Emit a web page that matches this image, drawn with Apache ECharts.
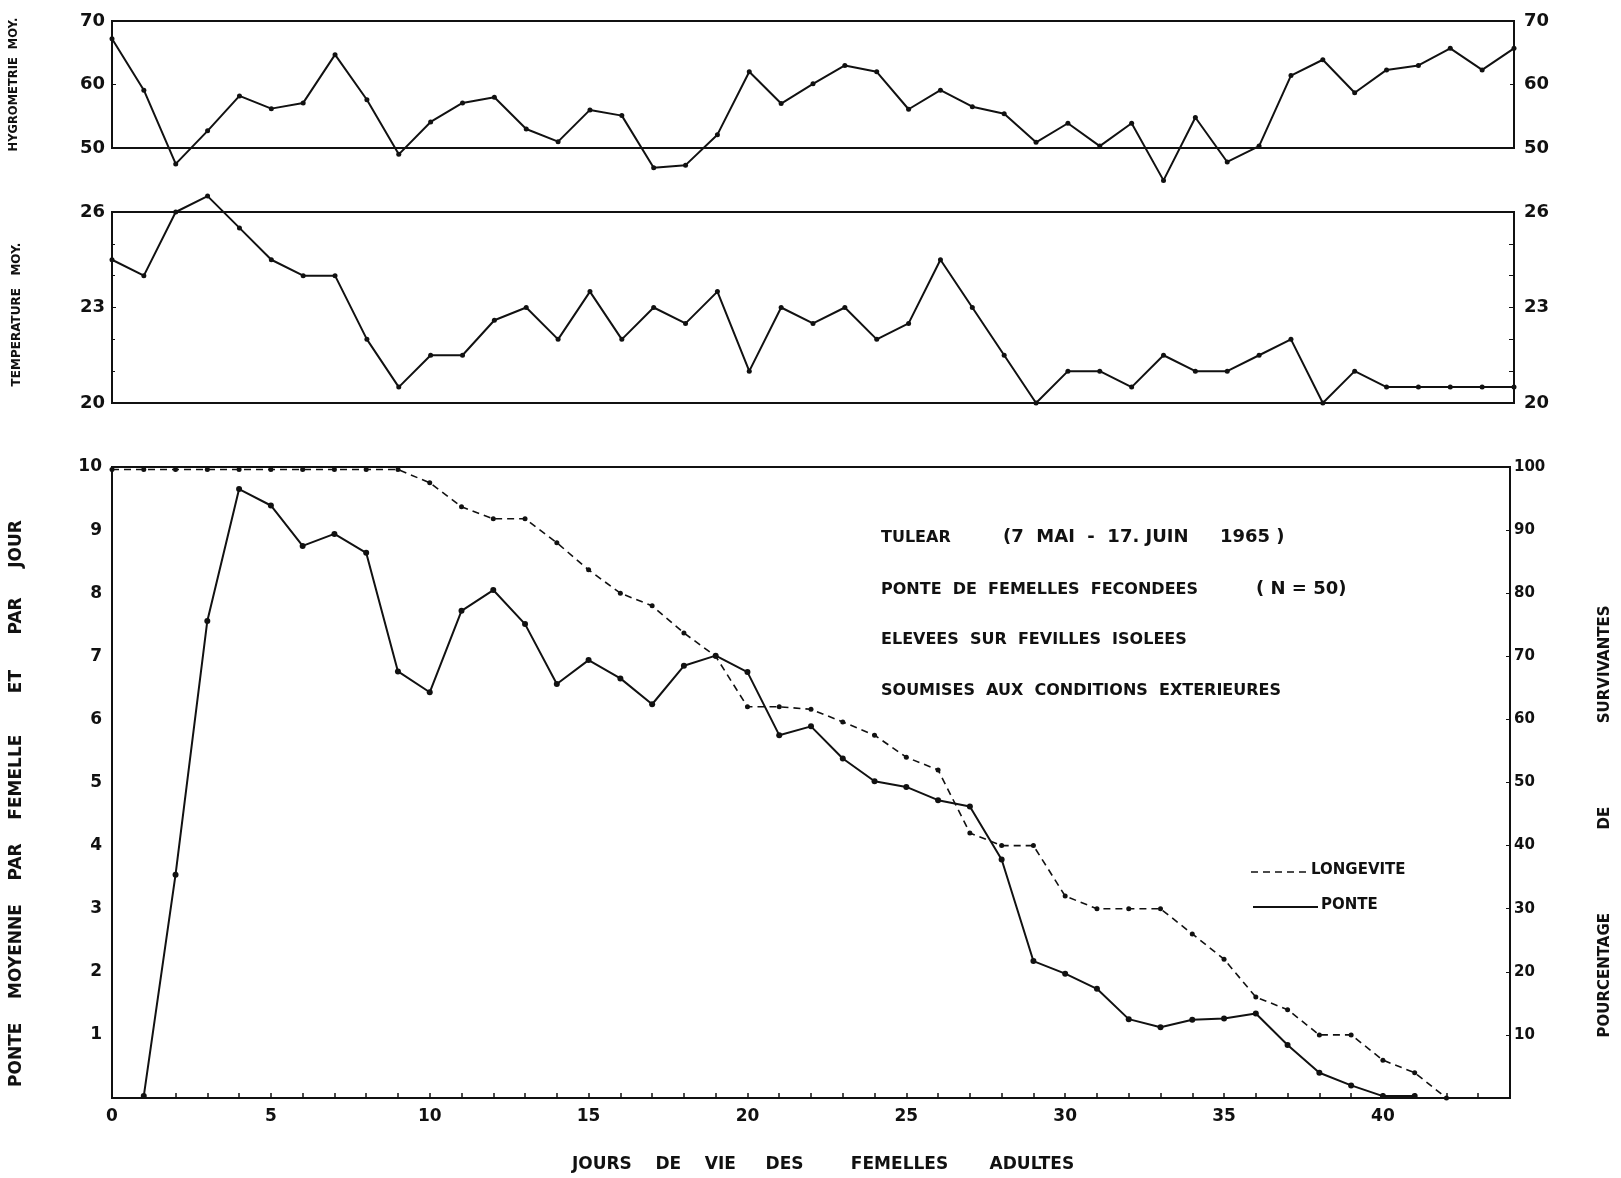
<!DOCTYPE html>
<html>
<head>
<meta charset="utf-8">
<script src="https://cdn.jsdelivr.net/npm/echarts@6/dist/echarts.min.js"></script>
<style>
html,body{margin:0;padding:0;background:#ffffff;}
#c{width:1621px;height:1178px;}
</style>
</head>
<body>
<div id="c"></div>
<script>
// ---- DATA ----
const days = [0,1,2,3,4,5,6,7,8,9,10,11,12,13,14,15,16,17,18,19,20,21,22,23,24,25,26,27,28,29,30,31,32,33,34,35,36,37,38,39,40,41,42,43,44];
const hygrometrie = [67.2,59.1,47.5,52.7,58.2,56.2,57.1,64.7,57.6,49.0,54.1,57.1,58.0,53.0,51.0,56.0,55.1,46.9,47.3,52.1,62.0,57.0,60.1,63.0,62.0,56.1,59.1,56.5,55.4,50.9,53.9,50.3,53.9,44.9,54.8,47.8,50.3,61.4,63.9,58.7,62.3,63.0,65.7,62.3,65.7];
const temperature = [24.5,24.0,26.0,26.5,25.5,24.5,24.0,24.0,22.0,20.5,21.5,21.5,22.6,23.0,22.0,23.5,22.0,23.0,22.5,23.5,21.0,23.0,22.5,23.0,22.0,22.5,24.5,23.0,21.5,20.0,21.0,21.0,20.5,21.5,21.0,21.0,21.5,22.0,20.0,21.0,20.5,20.5,20.5,20.5,20.5];
const ponte = [null,0.03,3.54,7.56,9.65,9.39,8.75,8.94,8.64,6.76,6.43,7.72,8.05,7.51,6.56,6.94,6.65,6.24,6.85,7.01,6.75,5.75,5.89,5.38,5.02,4.93,4.72,4.62,3.78,2.17,1.97,1.73,1.25,1.12,1.24,1.26,1.34,0.84,0.40,0.20,0.03,0.03];
const longevite = [99.6,99.6,99.6,99.6,99.6,99.6,99.6,99.6,99.6,99.6,97.5,93.7,91.8,91.8,88,83.7,80,78,73.7,70,62,62,61.6,59.6,57.5,54,52,42,40,40,32,30,30,30,26,22,16,14,10,10,6,4,0];
const annotationLines = [
  ['TULEAR', '(7  MAI  -  17. JUIN     1965 )'],
  ['PONTE  DE  FEMELLES  FECONDEES', '( N = 50)'],
  ['ELEVEES  SUR  FEVILLES  ISOLEES'],
  ['SOUMISES  AUX  CONDITIONS  EXTERIEURES']
];

// ---- CHART ----
const FONT = 'DejaVu Sans';
const INK = '#111111';
const pairs = vals => vals.map((v, i) => [days[i], v === null ? '-' : v]);

const chart = echarts.init(document.getElementById('c'), null, {renderer: 'canvas'});

const gridBase = {show: true, borderColor: INK, borderWidth: 2, backgroundColor: 'transparent'};
const lbl = (size, extra) => Object.assign({color: INK, fontFamily: FONT, fontWeight: 'bold', fontSize: size}, extra || {});

function hiddenX(gridIndex) {
  return {type: 'value', gridIndex, min: 0, max: 44, interval: 1,
    axisLine: {show: false}, axisTick: {show: false}, axisLabel: {show: false}, splitLine: {show: false}};
}

const option = {
  backgroundColor: '#ffffff',
  animation: false,
  grid: [
    Object.assign({left: 112, top: 21, width: 1402, height: 127}, gridBase),
    Object.assign({left: 112, top: 212, width: 1402, height: 191}, gridBase),
    Object.assign({left: 112, top: 467, width: 1408, height: 638}, gridBase)
  ],
  xAxis: [
    hiddenX(0),
    hiddenX(1),
    {type: 'value', gridIndex: 2, min: 0, max: 44, interval: 1,
      axisLine: {show: true, lineStyle: {color: INK, width: 2}},
      axisTick: {show: true, inside: true, length: 5, lineStyle: {color: INK, width: 1.5}},
      axisLabel: Object.assign(lbl(17), {margin: 10, formatter: v => (v % 5 === 0 ? String(v) : '')}),
      splitLine: {show: false},
      name: 'JOURS    DE    VIE     DES        FEMELLES       ADULTES',
      nameLocation: 'middle', nameGap: 58,
      nameTextStyle: lbl(17, {padding: [0, 0, 0, 24]})}
  ],
  yAxis: [
    {type: 'value', gridIndex: 0, position: 'left', min: 50, max: 70, interval: 10,
      axisLine: {show: true, lineStyle: {color: INK, width: 2}},
      axisTick: {show: true, inside: true, length: 4, lineStyle: {color: INK}},
      axisLabel: lbl(18, {margin: 7}), splitLine: {show: false},
      name: 'HYGROMETRIE  MOY.', nameLocation: 'middle', nameRotate: 90, nameGap: 92,
      nameTextStyle: lbl(11.5)},
    {type: 'value', gridIndex: 0, position: 'right', min: 50, max: 70, interval: 10,
      axisLine: {show: true, lineStyle: {color: INK, width: 2}},
      axisTick: {show: true, inside: true, length: 4, lineStyle: {color: INK}},
      axisLabel: lbl(18, {margin: 10}), splitLine: {show: false}},
    {type: 'value', gridIndex: 1, position: 'left', min: 20, max: 26, interval: 3,
      axisLine: {show: true, lineStyle: {color: INK, width: 2}},
      axisTick: {show: true, inside: true, length: 4, lineStyle: {color: INK}},
      minorTick: {show: true, splitNumber: 3, length: 3, lineStyle: {color: INK}},
      axisLabel: lbl(18, {margin: 7}), splitLine: {show: false},
      name: 'TEMPERATURE   MOY.', nameLocation: 'middle', nameRotate: 90, nameGap: 89,
      nameTextStyle: lbl(12, {padding: [0, 14, 0, 0]})},
    {type: 'value', gridIndex: 1, position: 'right', min: 20, max: 26, interval: 3,
      axisLine: {show: true, lineStyle: {color: INK, width: 2}},
      axisTick: {show: true, inside: true, length: 5, lineStyle: {color: INK}},
      minorTick: {show: true, splitNumber: 3, length: 5, lineStyle: {color: INK}},
      axisLabel: lbl(18, {margin: 10}), splitLine: {show: false}},
    {type: 'value', gridIndex: 2, position: 'left', min: 0, max: 10, interval: 1,
      axisLine: {show: true, lineStyle: {color: INK, width: 2}},
      axisTick: {show: false},
      axisLabel: lbl(17, {margin: 10, formatter: v => (v === 0 ? '' : String(v))}), splitLine: {show: false},
      name: 'PONTE    MOYENNE    PAR    FEMELLE       ET      PAR     JOUR', nameLocation: 'middle', nameRotate: 90, nameGap: 87,
      nameTextStyle: lbl(17, {padding: [0, 42, 0, 0]})},
    {type: 'value', gridIndex: 2, position: 'right', min: 0, max: 100, interval: 10,
      axisLine: {show: true, lineStyle: {color: INK, width: 2}},
      axisTick: {show: true, inside: true, length: 4, lineStyle: {color: INK}},
      axisLabel: lbl(15, {margin: 4, formatter: v => (v === 0 ? '' : String(v))}), splitLine: {show: false},
      name: 'POURCENTAGE                DE                SURVIVANTES', nameLocation: 'middle', nameRotate: 90, nameGap: 88,
      nameTextStyle: lbl(15, {padding: [0, 78, 0, 0]})}
  ],
  series: [
    {name: 'HYGROMETRIE', type: 'line', xAxisIndex: 0, yAxisIndex: 0, data: pairs(hygrometrie),
      clip: false, symbol: 'circle', symbolSize: 5, itemStyle: {color: INK},
      lineStyle: {color: INK, width: 2}},
    {name: 'TEMPERATURE', type: 'line', xAxisIndex: 1, yAxisIndex: 2, data: pairs(temperature),
      clip: false, symbol: 'circle', symbolSize: 5, itemStyle: {color: INK},
      lineStyle: {color: INK, width: 2}},
    {name: 'PONTE', type: 'line', xAxisIndex: 2, yAxisIndex: 4, data: pairs(ponte),
      clip: false, symbol: 'circle', symbolSize: 6, itemStyle: {color: INK},
      lineStyle: {color: INK, width: 2}},
    {name: 'LONGEVITE', type: 'line', xAxisIndex: 2, yAxisIndex: 5, data: pairs(longevite),
      clip: false, symbol: 'circle', symbolSize: 5, itemStyle: {color: INK},
      lineStyle: {color: INK, width: 1.6, type: [7, 5]}}
  ],
  graphic: []
};

// annotation text block
const annX = 881;
const annY = [540, 592, 642, 693];
const annSecondX = [1003, 1256];
annotationLines.forEach((parts, i) => {
  option.graphic.push({type: 'text', left: annX, top: annY[i] - 10,
    style: {text: parts[0], font: 'bold 16px "' + FONT + '"', fill: INK}});
  if (parts[1]) {
    option.graphic.push({type: 'text', left: annSecondX[i], top: annY[i] - 12,
      style: {text: parts[1], font: 'bold 18px "' + FONT + '"', fill: INK}});
  }
});

// legend
option.graphic.push(
  {type: 'line', shape: {x1: 1251, y1: 872, x2: 1306, y2: 872},
    style: {stroke: INK, lineWidth: 1.6, lineDash: [7, 5]}},
  {type: 'text', left: 1311, top: 863, style: {text: 'LONGEVITE', font: 'bold 15px "' + FONT + '"', fill: INK}},
  {type: 'line', shape: {x1: 1253, y1: 907, x2: 1318, y2: 907},
    style: {stroke: INK, lineWidth: 2}},
  {type: 'text', left: 1321, top: 898, style: {text: 'PONTE', font: 'bold 15px "' + FONT + '"', fill: INK}}
);

chart.setOption(option);
</script>
</body>
</html>
